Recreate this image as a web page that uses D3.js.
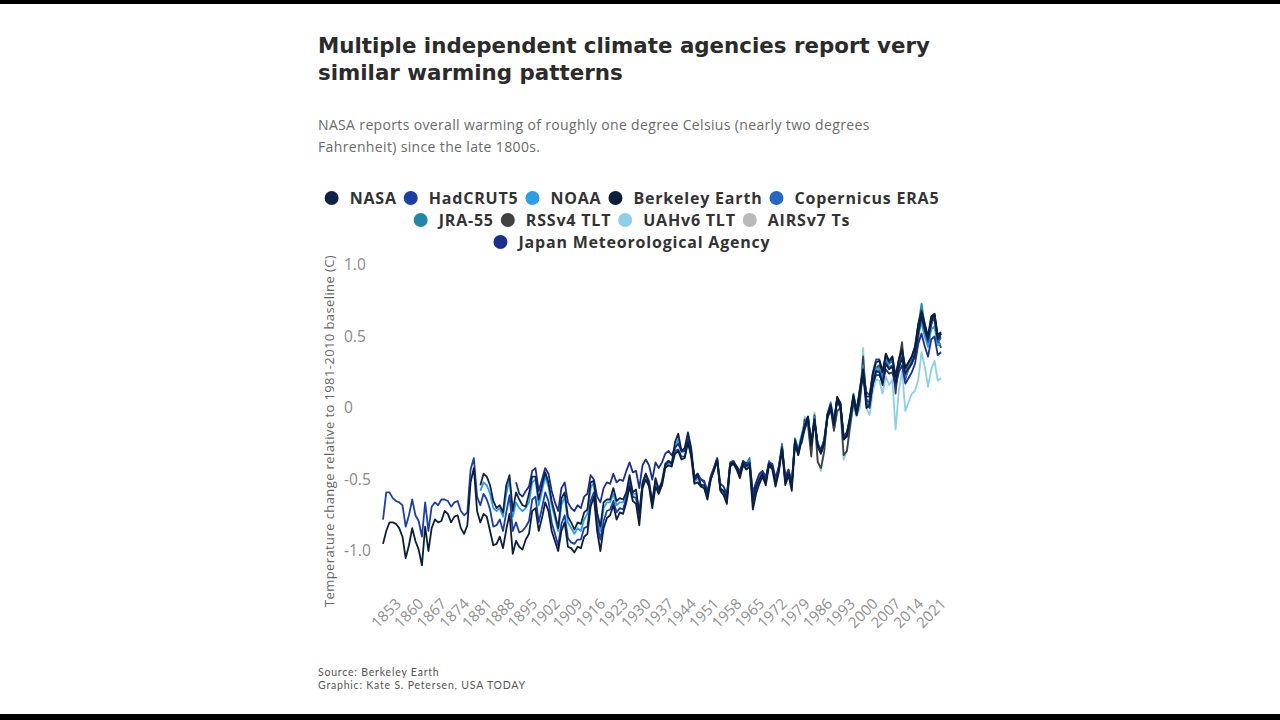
<!DOCTYPE html>
<html>
<head>
<meta charset="utf-8">
<script src="https://cdn.jsdelivr.net/npm/d3@7"></script>
<style>
  html, body { margin: 0; padding: 0; background: #fff; }
  svg { display: block; }
</style>
</head>
<body>
<svg id="chart" width="1280" height="720"></svg>
<script>
// ---------------- DATA (annual anomalies, °C, relative to 1981-2010) ----------------
const seriesNames = ["NASA", "HadCRUT5", "NOAA", "Berkeley Earth", "Copernicus ERA5",
  "JRA-55", "RSSv4 TLT", "UAHv6 TLT", "AIRSv7 Ts", "Japan Meteorological Agency"];
const seriesColors = ["#0f2247", "#1b3fa6", "#2a9fe6", "#0b1e3c", "#2468c2",
  "#2287a6", "#414141", "#8dcfe8", "#b9b9b9", "#1a2f8e"];
const startYears = [1880, 1850, 1880, 1850, 1979, 1958, 1979, 1979, 2003, 1891];

const hadcrut5 = [
  -0.78,-0.59,-0.59,-0.63,-0.65,-0.66,-0.68,-0.83,-0.75,-0.64,
  -0.75,-0.79,-0.90,-0.66,-0.86,-0.69,-0.66,-0.68,-0.64,-0.64,
  -0.65,-0.69,-0.66,-0.65,-0.72,-0.75,-0.73,-0.43,-0.35,-0.62,
  -0.68,-0.60,-0.64,-0.71,-0.83,-0.82,-0.78,-0.86,-0.73,-0.61,
  -0.86,-0.80,-0.87,-0.86,-0.83,-0.79,-0.64,-0.62,-0.80,-0.70,
  -0.59,-0.65,-0.80,-0.88,-0.96,-0.81,-0.75,-0.91,-0.94,-0.95,
  -0.92,-0.92,-0.84,-0.83,-0.65,-0.59,-0.81,-0.92,-0.79,-0.72,
  -0.71,-0.65,-0.73,-0.70,-0.71,-0.63,-0.52,-0.62,-0.63,-0.77,
  -0.52,-0.46,-0.51,-0.66,-0.51,-0.57,-0.51,-0.39,-0.37,-0.39,
  -0.30,-0.29,-0.34,-0.34,-0.23,-0.33,-0.50,-0.48,-0.50,-0.52,
  -0.60,-0.48,-0.42,-0.35,-0.56,-0.58,-0.63,-0.38,-0.37,-0.41,
  -0.46,-0.38,-0.40,-0.38,-0.66,-0.56,-0.50,-0.45,-0.51,-0.38,
  -0.40,-0.51,-0.42,-0.27,-0.50,-0.44,-0.53,-0.22,-0.31,-0.21,
  -0.12,-0.06,-0.25,-0.08,-0.26,-0.31,-0.24,-0.05,0.02,-0.11,
  0.07,0.03,-0.21,-0.19,-0.07,0.08,-0.03,0.14,0.27,0.11,
  0.09,0.25,0.34,0.34,0.26,0.36,0.32,0.35,0.22,0.33,
  0.40,0.28,0.32,0.36,0.43,0.58,0.65,0.55,0.47,0.61,
  0.62,0.48,0.50];

const berkeley = [
  -0.95,-0.86,-0.80,-0.80,-0.81,-0.84,-0.90,-1.05,-0.96,-0.84,
  -0.93,-0.99,-1.10,-0.83,-1.00,-0.84,-0.78,-0.80,-0.79,-0.72,
  -0.74,-0.80,-0.76,-0.75,-0.84,-0.88,-0.82,-0.52,-0.42,-0.72,
  -0.80,-0.74,-0.76,-0.86,-0.96,-0.95,-0.90,-0.98,-0.85,-0.74,
  -1.02,-0.93,-0.97,-0.99,-0.92,-0.88,-0.72,-0.70,-0.86,-0.77,
  -0.66,-0.72,-0.86,-0.93,-1.00,-0.86,-0.80,-0.97,-0.98,-1.01,
  -0.97,-0.98,-0.90,-0.88,-0.69,-0.62,-0.86,-1.00,-0.84,-0.77,
  -0.75,-0.68,-0.78,-0.73,-0.74,-0.66,-0.55,-0.65,-0.67,-0.82,
  -0.56,-0.50,-0.55,-0.70,-0.55,-0.60,-0.54,-0.42,-0.40,-0.41,
  -0.32,-0.30,-0.36,-0.35,-0.24,-0.34,-0.53,-0.52,-0.55,-0.56,
  -0.64,-0.50,-0.44,-0.37,-0.58,-0.61,-0.67,-0.41,-0.39,-0.43,
  -0.49,-0.40,-0.43,-0.41,-0.71,-0.60,-0.53,-0.48,-0.54,-0.40,
  -0.43,-0.55,-0.45,-0.29,-0.54,-0.47,-0.58,-0.25,-0.33,-0.23,
  -0.13,-0.06,-0.26,-0.08,-0.27,-0.32,-0.24,-0.05,0.02,-0.12,
  0.08,0.03,-0.22,-0.19,-0.07,0.09,-0.03,0.12,0.27,0.08,
  0.08,0.24,0.32,0.33,0.25,0.38,0.33,0.36,0.22,0.34,
  0.41,0.28,0.32,0.36,0.43,0.59,0.68,0.59,0.50,0.64,
  0.66,0.51,0.53];

const nasa = [
  -0.54,-0.46,-0.48,-0.54,-0.65,-0.70,-0.68,-0.73,-0.54,-0.47,
  -0.72,-0.59,-0.64,-0.68,-0.69,-0.60,-0.48,-0.48,-0.64,-0.54,
  -0.45,-0.52,-0.65,-0.74,-0.84,-0.63,-0.59,-0.76,-0.80,-0.85,
  -0.80,-0.81,-0.73,-0.71,-0.52,-0.51,-0.73,-0.83,-0.66,-0.64,
  -0.64,-0.56,-0.65,-0.63,-0.64,-0.59,-0.47,-0.59,-0.57,-0.73,
  -0.53,-0.46,-0.53,-0.66,-0.49,-0.57,-0.52,-0.40,-0.37,-0.39,
  -0.24,-0.18,-0.30,-0.28,-0.17,-0.28,-0.50,-0.46,-0.54,-0.54,
  -0.60,-0.50,-0.43,-0.36,-0.57,-0.58,-0.63,-0.39,-0.38,-0.41,
  -0.47,-0.38,-0.41,-0.39,-0.64,-0.55,-0.50,-0.46,-0.52,-0.39,
  -0.41,-0.52,-0.43,-0.28,-0.51,-0.45,-0.54,-0.23,-0.32,-0.22,
  -0.13,-0.07,-0.26,-0.09,-0.27,-0.31,-0.25,-0.07,0.00,-0.12,
  0.06,0.01,-0.22,-0.20,-0.07,0.07,-0.05,0.08,0.24,0.00,
  0.02,0.17,0.26,0.25,0.16,0.31,0.27,0.29,0.17,0.28,
  0.35,0.24,0.28,0.31,0.38,0.53,0.64,0.55,0.48,0.61,
  0.65,0.48,0.52];

const noaa = [
  -0.58,-0.52,-0.54,-0.60,-0.70,-0.72,-0.70,-0.76,-0.60,-0.50,
  -0.76,-0.66,-0.70,-0.72,-0.70,-0.66,-0.52,-0.50,-0.68,-0.58,
  -0.48,-0.55,-0.68,-0.77,-0.86,-0.68,-0.62,-0.80,-0.84,-0.88,
  -0.84,-0.86,-0.78,-0.74,-0.56,-0.52,-0.76,-0.86,-0.70,-0.66,
  -0.66,-0.60,-0.68,-0.66,-0.66,-0.61,-0.50,-0.60,-0.60,-0.76,
  -0.54,-0.47,-0.53,-0.68,-0.52,-0.58,-0.54,-0.41,-0.38,-0.40,
  -0.28,-0.22,-0.31,-0.30,-0.20,-0.30,-0.52,-0.49,-0.54,-0.56,
  -0.63,-0.50,-0.43,-0.35,-0.57,-0.59,-0.65,-0.40,-0.37,-0.41,
  -0.46,-0.38,-0.40,-0.37,-0.63,-0.55,-0.49,-0.45,-0.51,-0.38,
  -0.40,-0.52,-0.42,-0.27,-0.51,-0.45,-0.54,-0.23,-0.31,-0.21,
  -0.12,-0.07,-0.25,-0.09,-0.27,-0.30,-0.24,-0.06,0.01,-0.11,
  0.06,0.02,-0.20,-0.18,-0.06,0.08,-0.04,0.11,0.26,0.05,
  0.05,0.21,0.27,0.27,0.20,0.33,0.29,0.29,0.18,0.29,
  0.36,0.22,0.27,0.31,0.37,0.52,0.59,0.50,0.43,0.55,
  0.57,0.44,0.45];

const era5 = [
  -0.25,
  -0.15,-0.08,-0.26,-0.09,-0.27,-0.31,-0.22,-0.05,0.03,-0.09,
  0.06,0.03,-0.22,-0.18,-0.07,0.08,-0.02,0.09,0.26,0.04,
  0.02,0.17,0.25,0.26,0.19,0.32,0.28,0.30,0.16,0.29,
  0.36,0.23,0.27,0.31,0.37,0.52,0.63,0.54,0.46,0.60,
  0.63,0.46,0.49];

const jra55 = [
  -0.37,-0.42,
  -0.47,-0.37,-0.39,-0.35,-0.61,-0.54,-0.48,-0.45,-0.50,-0.37,
  -0.41,-0.52,-0.41,-0.25,-0.51,-0.44,-0.55,-0.21,-0.29,-0.19,
  -0.11,-0.06,-0.25,-0.06,-0.26,-0.29,-0.22,-0.04,0.04,-0.10,
  0.07,0.04,-0.20,-0.17,-0.05,0.10,-0.01,0.13,0.30,0.06,
  0.05,0.21,0.28,0.28,0.22,0.36,0.31,0.33,0.20,0.33,
  0.40,0.26,0.31,0.35,0.40,0.57,0.73,0.58,0.49,0.64,
  0.65,0.48,0.52];

const rss = [
  -0.24,
  -0.08,-0.12,-0.34,-0.05,-0.38,-0.42,-0.30,-0.04,0.00,-0.16,
  -0.02,0.00,-0.33,-0.30,-0.12,0.04,-0.05,0.05,0.36,0.03,
  0.00,0.20,0.28,0.30,0.22,0.38,0.31,0.36,0.10,0.33,
  0.46,0.20,0.28,0.33,0.35,0.49,0.68,0.56,0.43,0.58,
  0.65,0.48,0.42];

const uah = [
  -0.24,
  -0.06,-0.10,-0.32,-0.03,-0.36,-0.44,-0.31,-0.05,0.01,-0.16,
  -0.03,0.00,-0.36,-0.30,-0.14,0.01,-0.06,0.00,0.42,0.00,
  -0.05,0.12,0.20,0.19,0.10,0.22,0.16,0.20,-0.15,0.12,
  0.26,-0.02,0.04,0.10,0.12,0.20,0.39,0.29,0.15,0.27,
  0.33,0.19,0.21];

const airs = [
  0.30,0.24,0.36,0.32,0.34,0.20,0.33,
  0.40,0.26,0.31,0.34,0.40,0.58,0.66,0.58,0.48,0.62,
  0.66,0.50,0.52];

const jma = [
  -0.52,-0.60,-0.62,-0.58,-0.55,-0.44,-0.42,-0.58,-0.50,
  -0.42,-0.46,-0.58,-0.66,-0.72,-0.56,-0.52,-0.66,-0.70,-0.72,
  -0.68,-0.70,-0.62,-0.60,-0.47,-0.50,-0.62,-0.66,-0.56,-0.52,
  -0.53,-0.46,-0.52,-0.50,-0.51,-0.44,-0.38,-0.45,-0.44,-0.56,
  -0.40,-0.36,-0.40,-0.50,-0.38,-0.42,-0.38,-0.32,-0.30,-0.33,
  -0.28,-0.25,-0.30,-0.30,-0.22,-0.32,-0.48,-0.46,-0.50,-0.51,
  -0.58,-0.48,-0.42,-0.36,-0.53,-0.55,-0.60,-0.40,-0.38,-0.41,
  -0.44,-0.37,-0.39,-0.38,-0.59,-0.52,-0.46,-0.44,-0.48,-0.38,
  -0.39,-0.49,-0.41,-0.28,-0.48,-0.43,-0.52,-0.24,-0.31,-0.22,
  -0.14,-0.09,-0.25,-0.10,-0.25,-0.29,-0.23,-0.07,-0.01,-0.11,
  0.05,0.00,-0.20,-0.17,-0.07,0.06,-0.03,0.11,0.25,0.05,
  0.04,0.17,0.23,0.23,0.18,0.27,0.24,0.25,0.15,0.25,
  0.30,0.17,0.21,0.25,0.31,0.45,0.52,0.43,0.36,0.48,
  0.50,0.37,0.39];

const seriesValues = [nasa, hadcrut5, noaa, berkeley, era5, jra55, rss, uah, airs, jma];

const xTickYears = [1853,1860,1867,1874,1881,1888,1895,1902,1909,1916,1923,1930,1937,
  1944,1951,1958,1965,1972,1979,1986,1993,2000,2007,2014,2021];
const yTickValues = [-1, -0.5, 0, 0.5, 1];
const yTickLabels = ["-1.0", "-0.5", "0", "0.5", "1.0"];

const titleLines = ["Multiple independent climate agencies report very", "similar warming patterns"];
const subtitleLines = ["NASA reports overall warming of roughly one degree Celsius (nearly two degrees",
  "Fahrenheit) since the late 1800s."];
const yAxisTitle = "Temperature change relative to 1981-2010 baseline (C)";
const footerLines = ["Source: Berkeley Earth", "Graphic: Kate S. Petersen, USA TODAY"];
const legendRows = [[0, 1, 2, 3, 4], [5, 6, 7, 8], [9]];

// ---------------- DRAW ----------------
const svg = d3.select("#chart");
svg.append("rect").attr("width", 1280).attr("height", 720).attr("fill", "#fff");
svg.append("rect").attr("x", 0).attr("y", 0).attr("width", 1280).attr("height", 4).attr("fill", "#000");
svg.append("rect").attr("x", 0).attr("y", 714).attr("width", 1280).attr("height", 6).attr("fill", "#000");

const font = "'Open Sans', 'DejaVu Sans', sans-serif";
const titleFont = "'DejaVu Sans', 'Open Sans', sans-serif";
const footFont = "Lato, 'Open Sans', sans-serif";

// Title (font size fitted so the first line spans the reference width)
const titleG = svg.append("g");
const titleTexts = titleG.selectAll("text").data(titleLines).join("text")
  .attr("x", 318).attr("y", (d, i) => 53 + i * 27)
  .attr("font-family", titleFont).attr("font-weight", 700).attr("font-size", 20)
  .attr("fill", "#2b2b2b").text(d => d);
const natural = titleTexts.nodes()[0].getComputedTextLength();
const fitSize = Math.min(21.5, 20 * 612 / natural);
titleTexts.attr("font-size", fitSize);
const natural2 = titleTexts.nodes()[0].getComputedTextLength();
if (natural2 < 612) titleTexts.attr("letter-spacing", (612 - natural2) / titleLines[0].length);

// Subtitle
svg.append("g").selectAll("text").data(subtitleLines).join("text")
  .attr("x", 318).attr("y", (d, i) => 130 + i * 22)
  .attr("font-family", font).attr("font-size", 14).attr("letter-spacing", 0.35)
  .attr("fill", "#6a6a6a").text(d => d);

// Legend
const legendG = svg.append("g");
const legendCenter = 632;
legendRows.forEach((row, ri) => {
  const rowG = legendG.append("g");
  let cx = 0;
  row.forEach(si => {
    const item = rowG.append("g").attr("transform", `translate(${cx},0)`);
    item.append("circle").attr("cx", 7).attr("cy", 0).attr("r", 7).attr("fill", seriesColors[si]);
    const t = item.append("text").attr("x", 25).attr("y", 0).attr("dy", "0.35em")
      .attr("font-family", font).attr("font-weight", 700).attr("font-size", 16)
      .attr("letter-spacing", 0.8)
      .attr("fill", "#333").text(seriesNames[si]);
    cx += 25 + t.node().getComputedTextLength() + 7;
  });
  const w = cx - 7;
  rowG.attr("transform", `translate(${legendCenter - w / 2},${198 + ri * 22})`);
});

// Scales
const x = d3.scaleLinear().domain([1850, 2022]).range([383, 941]);
const y = d3.scaleLinear().domain([-1, 1]).range([551, 265]);

// Y axis
const yAxisG = svg.append("g").attr("transform", "translate(344,0)")
  .call(d3.axisLeft(y).tickValues(yTickValues).tickFormat((d, i) => yTickLabels[i]).tickSize(0));
yAxisG.select(".domain").remove();
yAxisG.selectAll("text").attr("x", 0).attr("text-anchor", "start")
  .attr("font-family", font).attr("font-size", 15.5).attr("fill", "#8a8a8a");

// Y axis title
svg.append("text")
  .attr("transform", "translate(334,431) rotate(-90)")
  .attr("text-anchor", "middle")
  .attr("font-family", font).attr("font-size", 13).attr("letter-spacing", 0.4)
  .attr("fill", "#666")
  .text(yAxisTitle);

// X axis
const xAxisG = svg.append("g").attr("transform", "translate(0,592)")
  .call(d3.axisBottom(x).tickValues(xTickYears).tickFormat(d3.format("d")).tickSize(0));
xAxisG.select(".domain").remove();
xAxisG.selectAll("text")
  .attr("x", 0).attr("y", 0).attr("dy", "0.35em")
  .attr("text-anchor", "end")
  .attr("transform", "translate(5,9) rotate(-45)")
  .attr("font-family", font).attr("font-size", 15).attr("fill", "#8f8f8f");

// Lines
const drawOrder = [8, 7, 6, 5, 2, 4, 9, 1, 0, 3];
const line = d3.line().x(d => x(d.year)).y(d => y(d.value));
const linesG = svg.append("g").attr("fill", "none");
drawOrder.forEach(si => {
  const pts = seriesValues[si].map((v, i) => ({ year: startYears[si] + i, value: v }));
  linesG.append("path").datum(pts)
    .attr("d", line)
    .attr("stroke", seriesColors[si])
    .attr("stroke-width", 1.8)
    .attr("stroke-linejoin", "round");
});

// Footer
svg.append("g").selectAll("text").data(footerLines).join("text")
  .attr("x", 318).attr("y", (d, i) => 676 + i * 13)
  .attr("font-family", footFont).attr("font-size", 10.5).attr("letter-spacing", 0.8)
  .attr("fill", "#555").text(d => d);
</script>
</body>
</html>
